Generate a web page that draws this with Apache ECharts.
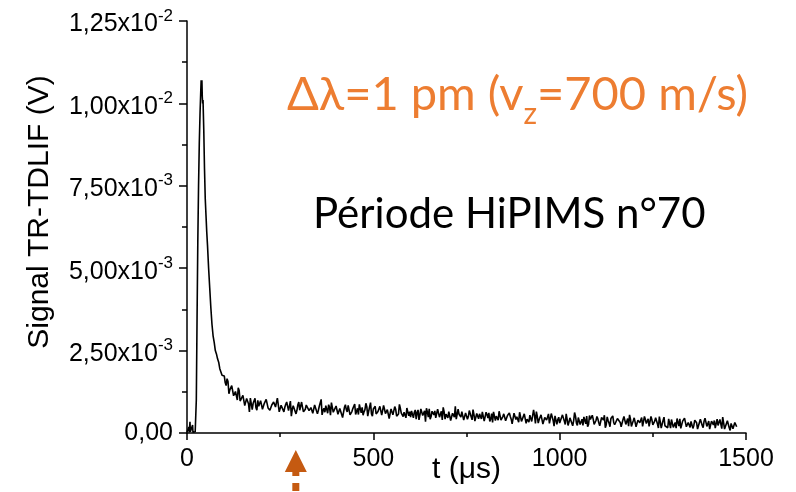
<!DOCTYPE html>
<html><head><meta charset="utf-8">
<script src="https://cdn.jsdelivr.net/npm/echarts@6/dist/echarts.min.js"></script>
<style>html,body{margin:0;padding:0;background:#fff}#c{width:796px;height:492px}</style>
</head><body><div id="c"></div>
<script>
// Time base (µs) and TR-TDLIF signal (in units of 1e-4 V)
const timeEarly = [0,2,4,5,6,8,9,11,12,14,15,16,18,20,22,24,25,27,29,31,33,35,37,38,39,40,41,42,43,45,47,49,51,53,55,58,61,64,67,70,73,76,79,82,85,88,91,94,97];
const signalEarly = [0.3,0.6,0.1,1.8,0.2,3.4,0.4,0.9,0.1,0.5,2.4,0.2,0.7,0.1,0.4,0.3,10,35,58,75,88,97,104,107,104,107,102,100,101,92,80,71,66,61,57,50,44,38,33,29.5,27.5,25,24,22.5,21.5,19.5,19,17.5,17.8];
const timeMain = [
100,105,110,115,120,125,130,135,140,145,150,155,160,165,170,175,180,185,190,195,
200,205,210,215,220,225,230,235,240,245,250,255,260,265,270,275,280,285,290,295,
300,305,310,315,320,325,330,335,340,345,350,355,360,365,370,375,380,385,390,395,
400,405,410,415,420,425,430,435,440,445,450,455,460,465,470,475,480,485,490,495,
500,505,510,515,520,525,530,535,540,545,550,555,560,565,570,575,580,585,590,595,
600,605,610,615,620,625,630,635,640,645,650,655,660,665,670,675,680,685,690,695,
700,705,710,715,720,725,730,735,740,745,750,755,760,765,770,775,780,785,790,795,
800,805,810,815,820,825,830,835,840,845,850,855,860,865,870,875,880,885,890,895,
900,905,910,915,920,925,930,935,940,945,950,955,960,965,970,975,980,985,990,995,
1000,1005,1010,1015,1020,1025,1030,1035,1040,1045,1050,1055,1060,1065,1070,1075,1080,1085,1090,1095,
1100,1105,1110,1115,1120,1125,1130,1135,1140,1145,1150,1155,1160,1165,1170,1175,1180,1185,1190,1195,
1200,1205,1210,1215,1220,1225,1230,1235,1240,1245,1250,1255,1260,1265,1270,1275,1280,1285,1290,1295,
1300,1305,1310,1315,1320,1325,1330,1335,1340,1345,1350,1355,1360,1365,1370,1375,1380,1385,1390,1395,
1400,1405,1410,1415,1420,1425,1430,1435,1440,1445,1450,1455,1460,1465,1470,1475];
const signalMain = [
17.3,14.4,15.6,13.1,14.4,11.3,12.6,10.0,12.9,9.9,11.4,8.3,10.5,8.9,10.6,7.1,9.4,7.7,9.9,8.0,
9.4,7.3,8.8,10.0,7.6,6.4,8.8,9.3,7.8,10.5,7.0,8.3,6.4,8.7,9.2,7.3,5.1,8.3,8.8,6.9,
9.4,7.3,7.8,6.3,8.5,9.1,6.4,7.6,6.6,8.6,5.8,8.1,10.2,6.8,6.3,7.7,8.6,5.4,7.8,6.9,
8.2,5.7,7.4,7.8,4.8,8.6,6.4,7.9,5.7,7.4,8.8,6.1,5.6,7.4,7.8,6.4,9.0,5.1,6.9,5.8,
7.3,8.1,5.6,6.3,8.4,5.0,7.2,5.9,7.6,4.4,7.7,5.8,7.2,4.9,8.7,6.0,5.0,6.8,7.6,5.2,
4.8,6.8,6.3,4.2,7.0,5.5,7.8,4.9,3.4,6.4,7.3,5.0,6.1,6.7,4.4,7.6,5.1,4.0,6.4,5.7,
4.6,6.7,4.0,5.9,8.1,4.4,5.7,4.8,6.7,3.4,6.1,5.0,6.9,4.0,5.6,3.1,6.2,5.8,4.3,6.4,
3.7,5.6,6.1,4.3,3.2,6.7,5.1,3.9,7.2,4.4,5.8,3.7,5.3,6.1,4.2,2.5,5.5,4.9,3.3,6.3,
3.9,5.8,2.9,4.8,5.4,3.5,7.0,2.9,5.0,4.1,5.5,2.7,4.7,3.9,5.8,3.0,4.9,2.1,5.4,4.1,
3.0,4.7,5.5,2.6,4.1,3.3,5.0,2.2,6.2,3.0,4.7,2.6,4.2,4.9,2.8,1.9,5.3,3.5,4.2,2.2,
5.0,3.1,2.3,4.4,5.4,2.5,3.8,1.9,4.6,3.2,2.3,4.4,3.8,1.9,4.1,5.6,2.6,2.1,4.2,2.9,
4.6,1.9,3.9,3.1,4.7,1.5,4.1,3.4,2.0,5.0,2.5,3.6,4.3,1.5,3.4,2.1,4.8,2.6,1.6,3.9,
4.1,1.7,3.2,4.4,2.1,1.4,3.6,4.5,1.9,3.2,1.7,3.6,2.3,4.1,1.2,3.2,3.8,1.6,4.5,2.0,
3.6,1.3,3.0,3.8,1.6,2.3,4.1,1.3,3.1,1.7,3.7,1.6,2.9,1.3,3.2,1.9];
const timeMid = [
102.5,107.5,112.5,117.5,122.5,127.5,132.5,137.5,142.5,147.5,152.5,157.5,162.5,167.5,172.5,177.5,182.5,187.5,192.5,197.5,
202.5,207.5,212.5,217.5,222.5,227.5,232.5,237.5,242.5,247.5,252.5,257.5,262.5,267.5,272.5,277.5,282.5,287.5,292.5,297.5,
302.5,307.5,312.5,317.5,322.5,327.5,332.5,337.5,342.5,347.5,352.5,357.5,362.5,367.5,372.5,377.5,382.5,387.5,392.5,397.5,
402.5,407.5,412.5,417.5,422.5,427.5,432.5,437.5,442.5,447.5,452.5,457.5,462.5,467.5,472.5,477.5,482.5,487.5,492.5,497.5,
502.5,507.5,512.5,517.5,522.5,527.5,532.5,537.5,542.5,547.5,552.5,557.5,562.5,567.5,572.5,577.5,582.5,587.5,592.5,597.5,
602.5,607.5,612.5,617.5,622.5,627.5,632.5,637.5,642.5,647.5,652.5,657.5,662.5,667.5,672.5,677.5,682.5,687.5,692.5,697.5,
702.5,707.5,712.5,717.5,722.5,727.5,732.5,737.5,742.5,747.5,752.5,757.5,762.5,767.5,772.5,777.5,782.5,787.5,792.5,797.5,
802.5,807.5,812.5,817.5,822.5,827.5,832.5,837.5,842.5,847.5,852.5,857.5,862.5,867.5,872.5,877.5,882.5,887.5,892.5,897.5,
902.5,907.5,912.5,917.5,922.5,927.5,932.5,937.5,942.5,947.5,952.5,957.5,962.5,967.5,972.5,977.5,982.5,987.5,992.5,997.5,
1002.5,1007.5,1012.5,1017.5,1022.5,1027.5,1032.5,1037.5,1042.5,1047.5,1052.5,1057.5,1062.5,1067.5,1072.5,1077.5,1082.5,1087.5,1092.5,1097.5,
1102.5,1107.5,1112.5,1117.5,1122.5,1127.5,1132.5,1137.5,1142.5,1147.5,1152.5,1157.5,1162.5,1167.5,1172.5,1177.5,1182.5,1187.5,1192.5,1197.5,
1202.5,1207.5,1212.5,1217.5,1222.5,1227.5,1232.5,1237.5,1242.5,1247.5,1252.5,1257.5,1262.5,1267.5,1272.5,1277.5,1282.5,1287.5,1292.5,1297.5,
1302.5,1307.5,1312.5,1317.5,1322.5,1327.5,1332.5,1337.5,1342.5,1347.5,1352.5,1357.5,1362.5,1367.5,1372.5,1377.5,1382.5,1387.5,1392.5,1397.5,
1402.5,1407.5,1412.5,1417.5,1422.5,1427.5,1432.5,1437.5,1442.5,1447.5,1452.5,1457.5,1462.5,1467.5,1472.5];
const signalMid = [
15.3,16.5,11.9,13.6,14.0,10.9,12.5,13.7,9.7,10.0,12.0,8.6,10.0,6.4,10.0,9.0,10.5,6.9,8.1,9.8,
7.2,9.0,10.2,7.6,6.9,8.5,9.4,7.9,10.6,6.4,8.4,7.1,7.8,9.4,6.8,9.7,7.2,8.5,5.8,8.6,
6.9,9.4,6.4,7.2,8.9,6.8,7.7,6.0,8.5,7.9,6.9,8.7,5.5,7.5,8.3,6.0,7.8,9.2,6.3,6.8,
8.7,6.1,7.5,4.7,7.8,7.1,8.4,5.5,6.5,8.0,5.6,7.5,8.7,6.1,5.4,7.1,8.0,6.6,9.2,5.1,
7.1,5.8,6.5,8.1,5.4,8.4,5.9,7.1,4.4,7.3,5.5,8.0,5.1,5.8,7.5,5.5,6.3,4.6,7.1,6.5,
6.7,4.6,7.0,6.2,4.0,7.3,5.3,6.7,7.5,4.8,4.2,6.6,5.5,4.6,7.2,4.8,6.6,7.8,4.2,5.9,
6.5,3.8,6.0,4.8,4.2,7.2,5.1,6.5,3.9,6.1,4.2,6.8,4.9,7.1,3.6,5.9,4.3,5.0,6.4,3.6,
6.3,4.5,3.5,5.9,6.4,3.8,5.3,6.6,3.9,5.0,5.5,3.4,5.8,5.0,2.8,6.0,4.1,5.5,6.3,3.5,
3.0,5.4,4.2,3.3,6.0,3.6,5.3,6.5,3.0,4.7,5.2,2.5,4.7,3.6,2.9,5.9,3.8,5.2,2.6,4.8,
2.9,5.5,3.6,5.8,2.3,4.6,3.0,3.7,5.1,2.3,5.0,3.2,2.3,4.6,5.1,2.6,4.1,5.4,2.6,3.8,
4.3,2.2,4.7,3.9,1.6,4.9,3.0,4.4,5.2,2.5,1.9,4.3,3.2,2.3,5.0,2.6,4.4,5.5,2.0,3.7,
4.3,1.6,3.8,2.6,2.0,5.0,2.9,4.3,1.8,4.0,2.0,4.6,2.7,5.0,1.5,3.8,2.2,2.8,4.3,1.5,
4.2,2.4,1.5,3.8,4.3,1.8,3.3,4.6,1.9,3.1,3.5,1.4,3.9,3.1,0.9,4.2,2.3,3.6,4.4,1.7,
1.2,3.6,2.5,1.5,4.2,1.8,3.6,4.8,1.2,2.9,3.5,0.8,3.0,1.8,3.6];
const SIGNAL_UNIT = 1e-4; // V

const yTickMantissa = ['0,00','2,50','5,00','7,50','1,00','1,25'];
const yTickExponent = ['','-3','-3','-3','-2','-2'];
const Y_STEP = 0.0025;
const ARROW_TIME = 292; // µs, marker under the axis

const titleText = 'Δλ=1 pm (v';
const titleSub = 'z';
const titleText2 = '=700 m/s)';
const periodText = 'Période HiPIMS n°70';

const data = [];
timeEarly.forEach((t, i) => data.push([t, signalEarly[i] * SIGNAL_UNIT]));
timeMain.forEach((t, i) => data.push([t, signalMain[i] * SIGNAL_UNIT]));
timeMid.forEach((t, i) => data.push([t, signalMid[i] * SIGNAL_UNIT]));
data.sort((a, b) => a[0] - b[0]);

const chart = echarts.init(document.getElementById('c'), null, {renderer: 'canvas'});
const AX_FONT = 'Liberation Sans, Arial, sans-serif';
chart.setOption({
  animation: false,
  backgroundColor: '#fff',
  grid: {left: 187, right: 50, top: 21, bottom: 59, containLabel: false, outerBoundsMode: 'none'},
  xAxis: {
    type: 'value', min: 0, max: 1500, interval: 500,
    axisLine: {show: true, onZero: false, lineStyle: {color: '#000', width: 1.5}},
    axisTick: {show: true, inside: false, length: 7, lineStyle: {color: '#000', width: 1.5}},
    minorTick: {show: true, splitNumber: 2, length: 4, lineStyle: {color: '#000', width: 1.5}},
    splitLine: {show: false}, minorSplitLine: {show: false},
    axisLabel: {color: '#000', fontSize: 25, fontFamily: AX_FONT, margin: 14,
      formatter: function (v) { return String(v); }},
    name: 't (μs)', nameLocation: 'middle', nameGap: 22, nameMoveOverlap: false,
    nameTextStyle: {color: '#000', fontSize: 30, fontFamily: AX_FONT}
  },
  yAxis: {
    type: 'value', min: 0, max: 0.0125, interval: Y_STEP,
    axisLine: {show: true, onZero: false, lineStyle: {color: '#000', width: 1.5}},
    axisTick: {show: true, inside: false, length: 8, lineStyle: {color: '#000', width: 1.5}},
    minorTick: {show: true, splitNumber: 2, length: 5, lineStyle: {color: '#000', width: 1.5}},
    splitLine: {show: false}, minorSplitLine: {show: false},
    axisLabel: {
      color: '#000', margin: 14,
      formatter: function (v) {
        const i = Math.round(v / Y_STEP);
        if (!yTickExponent[i]) return '{z|' + yTickMantissa[i] + '}';
        return '{m|' + yTickMantissa[i] + 'x10}{e|' + yTickExponent[i] + '}';
      },
      rich: {
        z: {fontSize: 25, fontFamily: AX_FONT, color: '#000', lineHeight: 26},
        m: {fontSize: 25, fontFamily: AX_FONT, color: '#000', lineHeight: 26, verticalAlign: 'bottom'},
        e: {fontSize: 17, fontFamily: AX_FONT, color: '#000', lineHeight: 32, height: 22, verticalAlign: 'top'}
      }
    },
    name: 'Signal TR-TDLIF (V)', nameLocation: 'middle', nameGap: 132, nameRotate: 90, nameMoveOverlap: false,
    nameTextStyle: {color: '#000', fontSize: 30, fontFamily: AX_FONT, padding: [0, 0, 0, 30]}
  },
  series: [{
    type: 'line', data: data, showSymbol: false, symbol: 'none', silent: true,
    lineStyle: {color: '#000', width: 1.6}, emphasis: {disabled: true}
  }]
});

const ax = chart.convertToPixel({xAxisIndex: 0}, ARROW_TIME);
const ARROW = '#C55A11';
chart.setOption({
  graphic: [
    {type: 'text', x: 287, y: 95, silent: true, style: {
      text: '{a|' + titleText + '}{s|' + titleSub + '}{a|' + titleText2 + '}',
      verticalAlign: 'middle',
      rich: {
        a: {fontSize: 47, fontFamily: 'Lato', fill: '#ED7D31', lineHeight: 52},
        s: {fontSize: 30, fontFamily: 'Lato', fill: '#ED7D31', lineHeight: 14, height: 13, verticalAlign: 'bottom'}
      }
    }},
    {type: 'text', x: 313, y: 214, silent: true, style: {
      text: periodText, fontSize: 42, fontFamily: 'Lato', fill: '#000', verticalAlign: 'middle'
    }},
    {type: 'polygon', silent: true, shape: {points: [[ax, 450], [ax - 11, 472], [ax + 11, 472]]}, style: {fill: ARROW}},
    {type: 'rect', silent: true, shape: {x: ax - 3.5, y: 471, width: 7, height: 5}, style: {fill: ARROW}},
    {type: 'rect', silent: true, shape: {x: ax - 3.5, y: 483, width: 7, height: 8}, style: {fill: ARROW}}
  ]
});
</script></body></html>
